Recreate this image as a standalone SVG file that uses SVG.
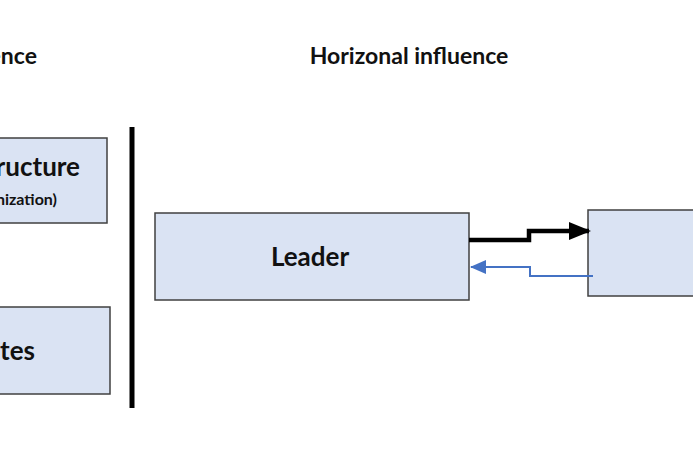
<svg xmlns="http://www.w3.org/2000/svg" width="693" height="462" viewBox="0 0 693 462">
<style>
.box{fill:#dae3f3;stroke:#404040;stroke-width:1.5}
.t{font-family:Lato,"Open Sans",sans-serif;font-weight:bold;fill:#111}
</style>
<defs>
<marker id="ab" markerWidth="5" markerHeight="4" refX="4.500" refY="2" orient="auto" markerUnits="strokeWidth"><path d="M0,0L5,2L0,4z" fill="#000"/></marker>
<marker id="au" markerWidth="8" markerHeight="7" refX="7.500" refY="3.500" orient="auto" markerUnits="strokeWidth"><path d="M0,0L8,3.500L0,7z" fill="#4472c4"/></marker>
</defs>
<rect width="693" height="462" fill="#fff"/>
<text class="t" x="37" y="64" font-size="23" text-anchor="end">Vertical influence</text>
<text class="t" x="409" y="64" font-size="23" text-anchor="middle">Horizonal influence</text>
<g id="structure"><rect class="box" x="-20" y="138" width="127" height="85"/>
<text class="t" x="80" y="176" font-size="26" text-anchor="end">Structure</text>
<text class="t" x="57" y="205" font-size="16" text-anchor="end">(organization)</text></g>
<g id="subordinates"><rect class="box" x="-20" y="307" width="130" height="87"/>
<text class="t" x="35" y="360" font-size="26" text-anchor="end">Subordinates</text></g>
<g id="divider"><rect x="129.500" y="127" width="5" height="281" fill="#000"/></g>
<g id="leader"><rect class="box" x="155" y="213" width="314" height="87"/>
<text class="t" x="310" y="266" font-size="26" text-anchor="middle">Leader</text></g>
<g id="peer"><rect class="box" x="588" y="210" width="120" height="86"/></g>
<g id="connectors" fill="none">
<path d="M469,240H529V231H589" stroke="#000" stroke-width="4.500" marker-end="url(#ab)"/>
<path d="M593,276H530V267H471" stroke="#4472c4" stroke-width="2" marker-end="url(#au)"/>
</g>
</svg>
